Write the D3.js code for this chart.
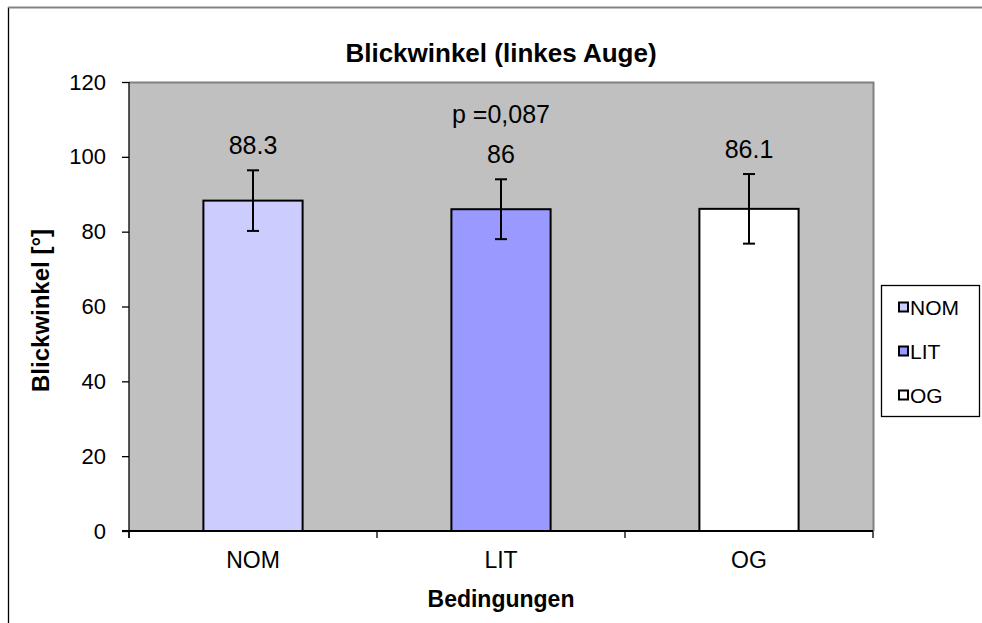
<!DOCTYPE html>
<html>
<head>
<meta charset="utf-8">
<script src="https://cdn.jsdelivr.net/npm/d3@7"></script>
<style>
  body { margin: 0; background: #fff; }
  text { font-family: Arial, "Liberation Sans", sans-serif; }
</style>
</head>
<body>
<script>
// chart data
var categories = ["NOM", "LIT", "OG"];
var means = [88.3, 86, 86.1];
var errors = [8.1, 8.0, 9.3];
var valueLabels = ["88.3", "86", "86.1"];
var barColors = ["#CCCCFF", "#9999FF", "#FFFFFF"];
var yTicks = [0, 20, 40, 60, 80, 100, 120];
var pLabel = "p =0,087";

var w = 982;
var h = 623;

// plot area in pixels
var plotLeft = 129, plotRight = 873, plotTop = 82, plotBottom = 531;

var svg = d3.select("body").append("svg").attr("width", w).attr("height", h);

// outer chart frame (only top/left visible)
svg.append("rect")
  .attr("x", 8.5).attr("y", 7.5)
  .attr("width", 1000).attr("height", 700)
  .attr("fill", "white").attr("stroke", "#000").attr("stroke-width", 1.3);
svg.append("line").attr("x1", 8).attr("x2", w).attr("y1", 7.5).attr("y2", 7.5)
  .attr("stroke", "#808080").attr("stroke-width", 1.5);

var x = d3.scaleBand().domain(categories).range([plotLeft, plotRight])
  .paddingInner(0.6).paddingOuter(0.3);
var y = d3.scaleLinear().domain([0, 120]).range([plotBottom, plotTop]);

// plot background
svg.append("rect")
  .attr("x", plotLeft).attr("y", plotTop)
  .attr("width", plotRight - plotLeft).attr("height", plotBottom - plotTop)
  .attr("fill", "#C0C0C0");
svg.append("path")
  .attr("d", "M" + plotLeft + "," + (plotTop + 0.5) + "H" + (plotRight + 0.5) + "V" + plotBottom)
  .attr("fill", "none").attr("stroke", "#808080").attr("stroke-width", 2);

// bars
svg.selectAll("rect.bar").data(means).enter().append("rect")
  .attr("class", "bar")
  .attr("x", function(d, i) { return x(categories[i]); })
  .attr("y", function(d) { return y(d); })
  .attr("width", x.bandwidth())
  .attr("height", function(d) { return y(0) - y(d); })
  .attr("fill", function(d, i) { return barColors[i]; })
  .attr("stroke", "#000").attr("stroke-width", 2);

// error bars
var eb = svg.selectAll("g.err").data(means).enter().append("g").attr("class", "err")
  .attr("stroke", "#000").attr("stroke-width", 2);
eb.append("line")
  .attr("x1", function(d, i) { return x(categories[i]) + x.bandwidth() / 2; })
  .attr("x2", function(d, i) { return x(categories[i]) + x.bandwidth() / 2; })
  .attr("y1", function(d, i) { return y(d + errors[i]); })
  .attr("y2", function(d, i) { return y(d - errors[i]); });
[1, -1].forEach(function(s) {
  eb.append("line")
    .attr("x1", function(d, i) { return x(categories[i]) + x.bandwidth() / 2 - 6; })
    .attr("x2", function(d, i) { return x(categories[i]) + x.bandwidth() / 2 + 6; })
    .attr("y1", function(d, i) { return y(d + s * errors[i]); })
    .attr("y2", function(d, i) { return y(d + s * errors[i]); });
});

// value labels
svg.selectAll("text.val").data(means).enter().append("text")
  .attr("class", "val")
  .attr("x", function(d, i) { return x(categories[i]) + x.bandwidth() / 2; })
  .attr("y", function(d, i) { return y(d + errors[i]) - 16; })
  .attr("text-anchor", "middle").attr("font-size", "25px")
  .text(function(d, i) { return valueLabels[i]; });

svg.append("text")
  .attr("x", x("LIT") + x.bandwidth() / 2)
  .attr("y", 123)
  .attr("text-anchor", "middle").attr("font-size", "25px")
  .text(pLabel);

// y axis
var yAxis = d3.axisLeft(y).tickValues(yTicks).tickSize(7).tickPadding(16);
var gy = svg.append("g").attr("transform", "translate(" + plotLeft + ",0)").call(yAxis);
gy.selectAll("text").attr("font-size", "22px").attr("fill", "#000")
  .attr("font-family", "Arial, 'Liberation Sans', sans-serif");
gy.selectAll(".tick line").attr("stroke", "#000").attr("stroke-width", 1.3);
gy.select(".domain").attr("stroke", "#000").attr("stroke-width", 1.3)
  .attr("d", "M0," + plotTop + "V" + (plotBottom + 7));

// x axis
var xAxis = d3.axisBottom(x).tickSize(0).tickPadding(21);
var gx = svg.append("g").attr("transform", "translate(0," + plotBottom + ")").call(xAxis);
gx.selectAll("text").attr("font-size", "23px").attr("fill", "#000")
  .attr("font-family", "Arial, 'Liberation Sans', sans-serif");
gx.select(".domain").attr("stroke", "#000").attr("stroke-width", 2)
  .attr("d", "M" + (plotLeft - 7) + ",0H" + plotRight);
// category boundary ticks
var step = x.step();
svg.selectAll("line.xtick").data(d3.range(categories.length + 1)).enter().append("line")
  .attr("class", "xtick")
  .attr("x1", function(d) { return plotLeft + d * step; })
  .attr("x2", function(d) { return plotLeft + d * step; })
  .attr("y1", plotBottom).attr("y2", plotBottom + 7)
  .attr("stroke", "#000").attr("stroke-width", 1.3);

// titles
svg.append("text").attr("x", 501).attr("y", 62)
  .attr("text-anchor", "middle").attr("font-size", "26px").attr("font-weight", "bold")
  .text("Blickwinkel (linkes Auge)");
svg.append("text").attr("x", 501).attr("y", 607)
  .attr("text-anchor", "middle").attr("font-size", "23px").attr("font-weight", "bold")
  .text("Bedingungen");
svg.append("text")
  .attr("transform", "translate(49," + ((plotTop + plotBottom) / 2 + 4) + ") rotate(-90)")
  .attr("text-anchor", "middle").attr("font-size", "24px").attr("font-weight", "bold")
  .text("Blickwinkel [°]");

// legend
var lg = svg.append("g");
lg.append("rect").attr("x", 881.5).attr("y", 285.5).attr("width", 98).attr("height", 131)
  .attr("fill", "white").attr("stroke", "#000").attr("stroke-width", 1.3);
var items = lg.selectAll("g.item").data(categories).enter().append("g")
  .attr("transform", function(d, i) { return "translate(899," + (315 + i * 44) + ")"; });
items.append("rect").attr("x", 0).attr("y", -12.5).attr("width", 9).attr("height", 9)
  .attr("fill", function(d, i) { return barColors[i]; })
  .attr("stroke", "#000").attr("stroke-width", 2);
items.append("text").attr("x", 11).attr("y", 0).attr("font-size", "21px")
  .text(function(d) { return d; });
</script>
</body>
</html>
